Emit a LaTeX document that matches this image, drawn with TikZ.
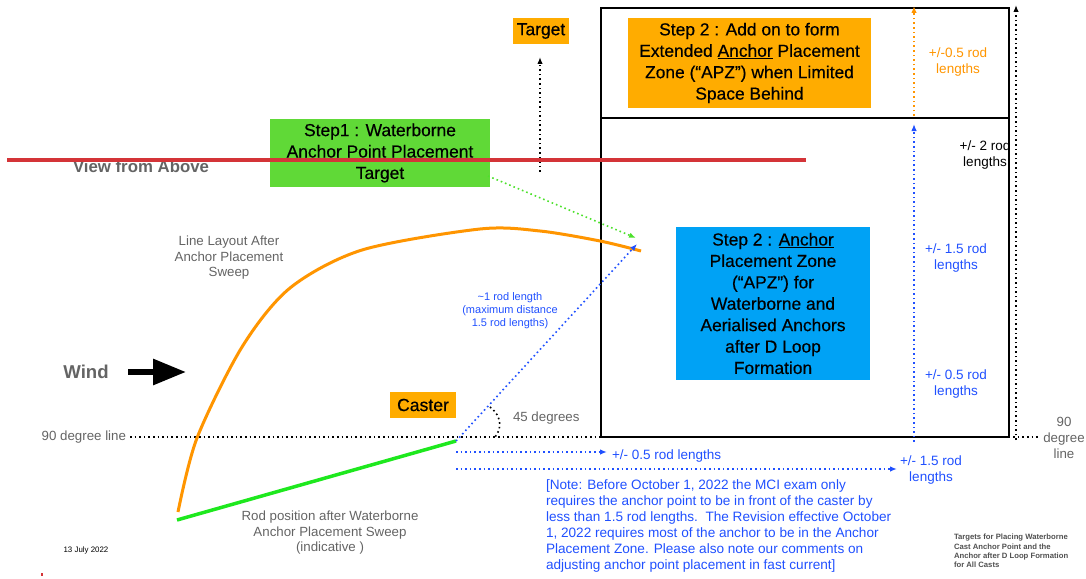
\documentclass[tikz,border=0pt]{standalone}
\usepackage{fontspec}
\setmainfont{Liberation Sans}
\newfontfamily\medfont[FakeBold=0.4]{Liberation Sans}
\usetikzlibrary{arrows.meta,positioning}
\definecolor{boxorange}{RGB}{255,172,0}
\definecolor{lineorange}{RGB}{255,149,0}
\definecolor{stepgreen}{RGB}{96,217,55}
\definecolor{rodgreen}{RGB}{30,232,30}
\definecolor{apzblue}{RGB}{0,162,245}
\definecolor{noteblue}{RGB}{32,80,255}
\definecolor{labelgray}{RGB}{100,100,100}
\definecolor{viewred}{RGB}{212,52,56}

\begin{document}
\begin{tikzpicture}[x=1pt,y=-1pt,>={Latex[length=7pt,width=5.5pt]},
                    every node/.style={inner sep=0pt,outer sep=0pt}]
  \tikzstyle{stepbox}=[text=black,align=center,font=\medfont\fontsize{17.4}{21.4}\selectfont]
  \tikzstyle{graylabel}=[text=labelgray,align=center,font=\fontsize{13.3}{15.5}\selectfont]
  \tikzstyle{rodlabel}=[align=center,font=\fontsize{13.5}{15.5}\selectfont]
  \tikzstyle{dotline}=[line width=1.6pt,dash pattern=on 1.6pt off 3pt]

  \useasboundingbox (0,0) rectangle (1086,578);

  \draw[line width=2pt] (601,8) rectangle (1009,437);
  \draw[line width=2pt] (601,118) -- (1009,118);

  \node[stepbox,fill=boxorange,minimum width=243pt,minimum height=90pt] (extapz) at (749.5,63)
    {Step 2 : Add on to form\\Extended \underline{Anchor} Placement\\Zone (“APZ”) when Limited\\Space Behind};
  \node[stepbox,fill=apzblue,minimum width=194pt,minimum height=153pt] (apz) at (773,303.5)
    {Step 2 : \underline{Anchor}\\Placement Zone\\(“APZ”) for\\Waterborne and\\Aerialised Anchors\\after D Loop\\Formation};
  \node[stepbox,fill=stepgreen,minimum width=220pt,minimum height=68pt] (stepone) at (380,153)
    {Step1 : Waterborne\\Anchor Point Placement\\Target};
  \node[stepbox,fill=boxorange,minimum width=56pt,minimum height=26pt] (target) at (541,31) {Target};
  \node[stepbox,fill=boxorange,minimum width=66pt,minimum height=26pt,font=\medfont\fontsize{17.6}{20}\selectfont] (caster) at (423,405) {Caster};

  \node[text=labelgray,font=\fontsize{16.8}{19}\selectfont\bfseries] (view) at (141,166) {View from Above};
  \node[text=labelgray,font=\fontsize{18.6}{21}\selectfont\bfseries] (wind) at (86,372) {Wind};
  \node[graylabel] (layout) at (229,258) {Line Layout After\\Anchor Placement\\Sweep};
  \node[graylabel] (rodpos) at (330,533) {Rod position after Waterborne\\Anchor Placement Sweep\\(indicative )};
  \node[graylabel,anchor=east] (ninety) at (126,437) {90 degree line};
  \node[graylabel,font=\fontsize{13.3}{16}\selectfont] (ninetyr) at (1064,438) {90\\degree\\line};
  \node[graylabel,anchor=west] (angle) at (513,418) {45 degrees};
  \node[text=black,font=\fontsize{7.9}{9}\selectfont] (date) at (86,550) {13 July 2022};
  \node[text=labelgray!80!black,align=left,anchor=west,font=\fontsize{7.7}{9.4}\selectfont\bfseries] (caption) at (954,551)
    {Targets for Placing Waterborne\\Cast Anchor Point and the\\Anchor after D Loop Formation\\for All Casts};

  \node[rodlabel,text=noteblue,font=\fontsize{11}{13}\selectfont] (rodlen) at (510,311)
    {\textasciitilde1 rod length\\(maximum distance\\1.5 rod lengths)};
  \node[rodlabel,text=noteblue,anchor=west] (halfrod) at (612,456) {+/- 0.5 rod lengths};
  \node[rodlabel,text=noteblue] (onehalfrod) at (931,470) {+/- 1.5 rod\\lengths};
  \node[rodlabel,text=noteblue] (upone) at (956,258) {+/- 1.5 rod\\lengths};
  \node[rodlabel,text=noteblue] (uphalf) at (956,384) {+/- 0.5 rod\\lengths};
  \node[rodlabel,text=lineorange] (exthalf) at (958,62) {+/-0.5 rod\\lengths};
  \node[rodlabel,text=black] (uptwo) at (985,155) {+/- 2 rod\\lengths};
  \node[text=noteblue,align=left,anchor=north west,font=\fontsize{13.6}{16}\selectfont] (note) at (546,480)
    {[Note: Before October 1, 2022 the MCI exam only\\
     requires the anchor point to be in front of the caster by\\
     less than 1.5 rod lengths.\ \ The Revision effective October\\
     1, 2022 requires most of the anchor to be in the Anchor\\
     Placement Zone. Please also note our comments on\\
     adjusting anchor point placement in fast current]};

  \coordinate (castpt) at (456,441);
  \coordinate (rodend) at (177,520);
  \coordinate (sweepend) at (637,244);
  \coordinate (greenend) at (636,238);
  \coordinate (targetbase) at (540,172);
  \coordinate (ninetyend) at (1040,437);
  \coordinate (halfstart) at (456,452);
  \coordinate (halfend) at (607,452);
  \coordinate (onestart) at (456,469);
  \coordinate (oneend) at (897,469);
  \coordinate (bluebase) at (914,442);
  \coordinate (bluetop) at (914,124);
  \coordinate (orangebase) at (914,116);
  \coordinate (orangetop) at (914,6);
  \coordinate (blackbase) at (1016,440);
  \coordinate (blacktop) at (1016,5);
  \coordinate (windtail) at (128,372);
  \coordinate (windtip) at (186,372);

  \draw[dotline,black,shorten <=4pt] (ninety.east) -- (ninetyend);
  \draw[lineorange,line width=3pt] plot[smooth,tension=0.5] coordinates
    {(178,512) (197,438) (242,347) (290,288) (362,250) (480,229) (540,231) (600,241) (641,251)};
  \draw[rodgreen,line width=3.5pt] (rodend) -- (castpt);
  \draw[dotline,noteblue,->] (castpt) -- (sweepend);
  \draw[dotline,stepgreen!80!green,->] ([xshift=-2pt,yshift=-23pt]stepone.east) -- (greenend);
  \draw[dotline,black,->] (targetbase) -- ([xshift=-1pt,yshift=-13pt]target.south);
  \draw[dotline,black] (490,407) .. controls (503,417) and (501,430) .. (495,437);
  \draw[dotline,noteblue,->] (halfstart) -- (halfend);
  \draw[dotline,noteblue,->] (onestart) -- (oneend);
  \draw[dotline,noteblue,->] (bluebase) -- (bluetop);
  \draw[dotline,lineorange,->] (orangebase) -- (orangetop);
  \draw[dotline,black,->] (blackbase) -- (blacktop);
  \draw[line width=6pt,-{Triangle[length=33pt,width=25pt]}] (windtail) -- (windtip);

  \draw[viewred,line width=4pt] (7,160) -- (806,160);
  \fill[viewred] (41.3,573) rectangle (42.7,576);
\end{tikzpicture}
\end{document}
